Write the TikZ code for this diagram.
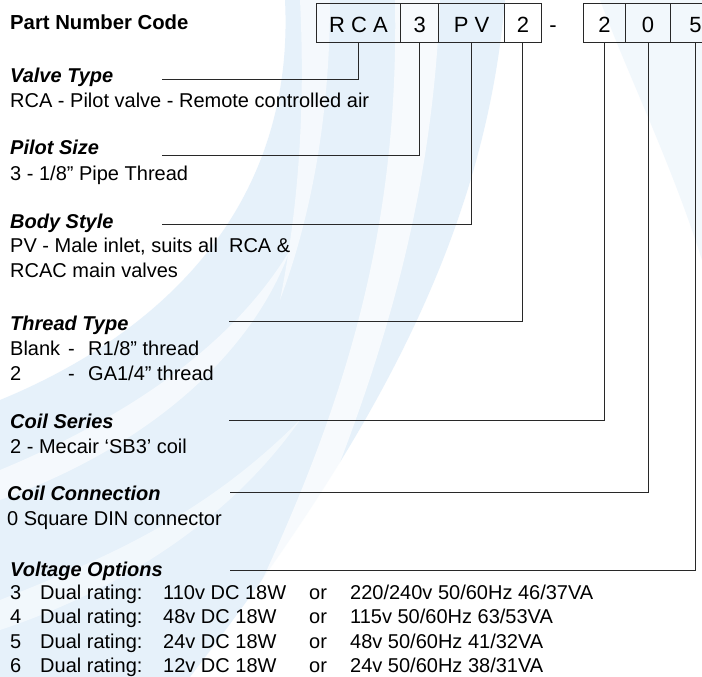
\documentclass[tikz,border=0pt]{standalone}
\usepackage{fontspec}
\setmainfont{Liberation Sans}
\definecolor{paleblue}{RGB}{214,232,248}
\definecolor{lineink}{RGB}{40,40,40}
\begin{document}
\begin{tikzpicture}[x=1pt,y=-1pt,
  txt/.style={anchor=base west, inner sep=0pt, font=\fontsize{20}{24}\selectfont},
  head/.style={anchor=base west, inner sep=0pt, font=\fontsize{20}{24}\selectfont\bfseries\itshape},
  titletxt/.style={anchor=base west, inner sep=0pt, font=\fontsize{20.3}{24}\selectfont\bfseries},
  cell/.style={draw=lineink, line width=1.1pt, anchor=north west, inner sep=0pt,
    minimum height=39pt, text height=29.6pt, text depth=9.4pt, font=\fontsize{22}{26}\selectfont},
  leader/.style={draw=lineink, line width=1pt},
  swoosh/.style={fill=paleblue, draw=none},
  streak/.style={fill=white, draw=none}]
\useasboundingbox (0,0) rectangle (702,677);
\fill[white] (0,0) rectangle (702,677);
% background watermark swoosh
\begin{scope}
\clip (0,0) rectangle (702,677);
\fill[swoosh, opacity=0.6] (285,0) -- (505,0) .. controls (485,230) and (380,430) .. (190,677) -- (0,677) -- (0,400) .. controls (170,330) and (295,200) .. (285,0) -- cycle;
\fill[swoosh, opacity=0.3] (600,0) -- (702,0) -- (702,260) .. controls (670,160) and (630,80) .. (600,0) -- cycle;
\fill[streak, opacity=0.7] (395,0) -- (440,0) .. controls (430,260) and (350,450) .. (250,677) -- (215,677) .. controls (330,450) and (400,260) .. (395,0) -- cycle;
\fill[streak, opacity=0.6] (0,470) .. controls (120,420) and (230,350) .. (290,250) .. controls (250,360) and (140,450) .. (0,500) -- cycle;
\fill[streak, opacity=0.5] (0,600) .. controls (100,560) and (200,520) .. (300,420) .. controls (230,520) and (120,590) .. (0,630) -- cycle;
\fill[streak, opacity=0.6] (300,0) -- (330,0) .. controls (330,120) and (310,220) .. (280,300) .. controls (300,200) and (305,100) .. (300,0) -- cycle;
\end{scope}

% title
\node[titletxt] (title) at (10,30) {Part Number Code};

% code boxes
\node[cell, minimum width=84pt]   (b1) at (316,2.7)   {R C A};
\node[cell, minimum width=38.3pt] (b2) at (400,2.7)   {3};
\node[cell, minimum width=65.7pt] (b3) at (438.3,2.7) {P V};
\node[cell, minimum width=36.7pt] (b4) at (504,2.7)   {2};
\node[anchor=base, inner sep=0pt, font=\fontsize{22}{26}\selectfont] (dash) at (553,32.3) {-};
\node[cell, minimum width=42.3pt] (b5) at (582.7,2.7) {2};
\node[cell, minimum width=45pt]   (b6) at (625,2.7)   {0};
\node[cell, minimum width=50pt]   (b7) at (670,2.7)   {5};

% leader lines
\coordinate (l1) at (162,80);
\coordinate (l2) at (162,155);
\coordinate (l3) at (162,224.3);
\coordinate (l4) at (229,321.7);
\coordinate (l5) at (229,420);
\coordinate (l6) at (230,492.3);
\coordinate (l7) at (230,570.7);
\draw[leader] (l1) -| (b1.south);
\draw[leader] (l2) -| (b2.south);
\draw[leader] (l3) -| (b3.south);
\draw[leader] (l4) -| (b4.south);
\draw[leader] (l5) -| (b5.south);
\draw[leader] (l6) -| (b6.south);
\draw[leader] (l7) -| (b7.south);

% Valve type
\node[head] (h1) at (10,82) {Valve Type};
\node[txt] (t1) at (10,107) {RCA - Pilot valve - Remote controlled air};
% Pilot size
\node[head] (h2) at (10,154.5) {Pilot Size};
\node[txt] (t2) at (10,180) {3 - 1/8” Pipe Thread};
% Body style
\node[head] (h3) at (10,228) {Body Style};
\node[txt] (t3a) at (10,252.5) {PV - Male inlet, suits all \ RCA \&};
\node[txt] (t3b) at (10,277) {RCAC main valves};
% Thread type
\node[head] (h4) at (10,330) {Thread Type};
\node[txt] (t4a) at (10,355) {Blank};
\node[txt] (t4b) at (68,355) {-};
\node[txt] (t4c) at (88,355) {R1/8” thread};
\node[txt] (t4d) at (10,380) {2};
\node[txt] (t4e) at (68,380) {-};
\node[txt] (t4f) at (88,380) {GA1/4” thread};
% Coil series
\node[head] (h5) at (10,428) {Coil Series};
\node[txt] (t5) at (10,453) {2 - Mecair ‘SB3’ coil};
% Coil connection
\node[head] (h6) at (7,500) {Coil Connection};
\node[txt] (t6) at (7,525) {0 Square DIN connector};
% Voltage options
\node[head] (h7) at (10,576) {Voltage Options};
\foreach \n/\yy/\dc/\ac in {3/599/110v DC 18W/220\slash 240v 50\slash 60Hz 46\slash 37VA,
                            4/623.5/48v DC 18W/115v 50\slash 60Hz 63\slash 53VA,
                            5/648/24v DC 18W/48v 50\slash 60Hz 41\slash 32VA,
                            6/672.5/12v DC 18W/24v 50\slash 60Hz 38\slash 31VA}{
  \node[txt] (vn\n) at (10,\yy) {\n};
  \node[txt] (vd\n) at (40,\yy) {Dual rating:};
  \node[txt] (vc\n) at (163,\yy) {\dc};
  \node[txt] (vo\n) at (309,\yy) {or};
  \node[txt] (va\n) at (350,\yy) {\ac};
}
\end{tikzpicture}
\end{document}
